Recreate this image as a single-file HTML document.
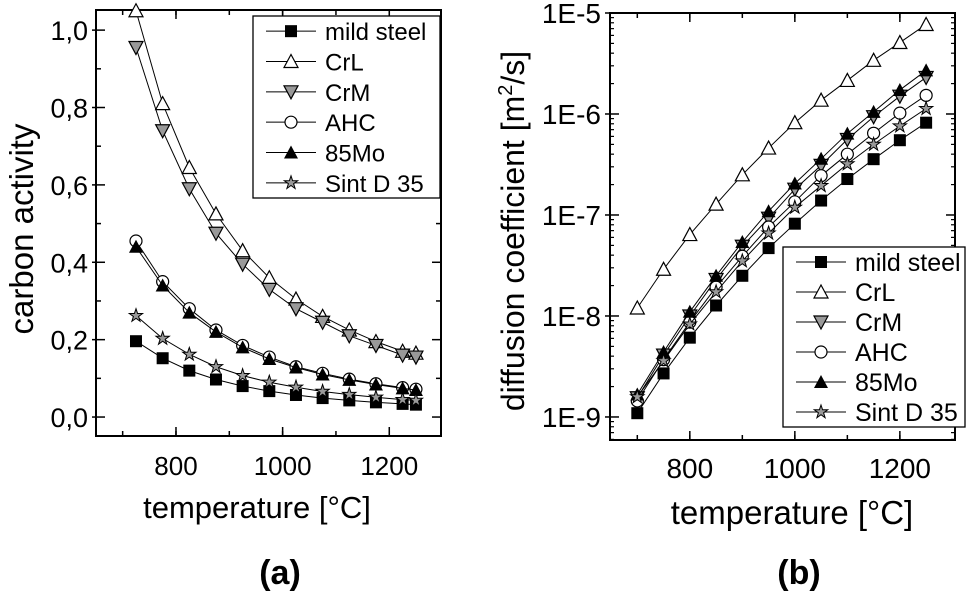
<!DOCTYPE html>
<html><head><meta charset="utf-8"><style>
html,body{margin:0;padding:0;background:#fff}
svg{display:block;font-family:"Liberation Sans",Arial,sans-serif}
</style></head><body>
<svg id="fig" width="967" height="593" viewBox="0 0 967 593" xmlns="http://www.w3.org/2000/svg"></svg>
<script>
// ---- data: panel (a) carbon activity ----
const tempsA = [725,775,825,875,925,975,1025,1075,1125,1175,1225,1250];
const mildA = [0.196,0.152,0.120,0.097,0.080,0.067,0.057,0.049,0.043,0.038,0.034,0.032];
const crlA  = [1.05,0.81,0.645,0.525,0.43,0.36,0.305,0.26,0.225,0.195,0.17,0.165];
const crmA  = [0.955,0.74,0.59,0.475,0.395,0.33,0.28,0.245,0.21,0.185,0.16,0.155];
const ahcA  = [0.455,0.35,0.28,0.225,0.185,0.155,0.13,0.113,0.098,0.086,0.076,0.072];
const moA   = [0.44,0.34,0.27,0.22,0.18,0.15,0.128,0.11,0.096,0.084,0.074,0.07];
const sintA = [0.262,0.203,0.162,0.13,0.107,0.09,0.077,0.066,0.058,0.051,0.045,0.043];
const yTicksA = [0,0.2,0.4,0.6,0.8,1.0];
const yTickLabelsA = ["0,0","0,2","0,4","0,6","0,8","1,0"];
const xTicks = [800,1000,1200];
// ---- data: panel (b) diffusion coefficient ----
const tempsB = [700,750,800,850,900,950,1000,1050,1100,1150,1200,1250];
const mildB = [1.09e-9,2.7e-9,6.1e-9,1.27e-8,2.5e-8,4.7e-8,8.2e-8,1.39e-7,2.27e-7,3.57e-7,5.5e-7,8.2e-7];
const crlB  = [1.2e-8,2.9e-8,6.4e-8,1.28e-7,2.5e-7,4.6e-7,8.2e-7,1.37e-6,2.15e-6,3.4e-6,5.1e-6,7.7e-6];
const crmB  = [1.55e-9,4.1e-9,1.0e-8,2.3e-8,4.9e-8,9.3e-8,1.8e-7,3.1e-7,5.6e-7,9.4e-7,1.5e-6,2.3e-6];
const ahcB  = [1.44e-9,3.7e-9,8.7e-9,1.93e-8,3.9e-8,7.6e-8,1.35e-7,2.45e-7,4.0e-7,6.45e-7,1.02e-6,1.53e-6];
const moB   = [1.67e-9,4.4e-9,1.1e-8,2.5e-8,5.4e-8,1.09e-7,2.05e-7,3.6e-7,6.4e-7,1.05e-6,1.73e-6,2.7e-6];
const sintB = [1.58e-9,3.6e-9,8.3e-9,1.73e-8,3.5e-8,6.6e-8,1.19e-7,1.95e-7,3.2e-7,5.0e-7,7.6e-7,1.13e-6];
const yDecadesB = [-9,-8,-7,-6,-5];
const seriesNames = ["mild steel","CrL","CrM","AHC","85Mo","Sint D 35"];

const NS="http://www.w3.org/2000/svg";
const svg=document.getElementById('fig');
function el(tag,attrs,parent){const e=document.createElementNS(NS,tag);for(const k in attrs)e.setAttribute(k,attrs[k]);(parent||svg).appendChild(e);return e;}

const A={l:96,r:441,t:10,b:436,x0:650,x1:1297,y0:-0.049,y1:1.052};
const xA=v=>A.l+(v-A.x0)/(A.x1-A.x0)*(A.r-A.l);
const yA=v=>A.b-(v-A.y0)/(A.y1-A.y0)*(A.b-A.t);
const B={l:610,r:955,t:13,b:440,x0:648,x1:1305,e0:-9.228,e1:-5};
const xB=v=>B.l+(v-B.x0)/(B.x1-B.x0)*(B.r-B.l);
const yB=v=>B.b-(Math.log10(v)-B.e0)/(B.e1-B.e0)*(B.b-B.t);

function marker(g,type,x,y,s){
  s=s||6;
  let m;
  if(type==='sq') m=el('rect',{x:x-s,y:y-s,width:2*s,height:2*s,fill:'#000'},g);
  else if(type==='tu') m=el('polygon',{points:`${x},${y-s-1} ${x-s-1},${y+s} ${x+s+1},${y+s}`,fill:'#fff',stroke:'#000','stroke-width':1.2},g);
  else if(type==='td') m=el('polygon',{points:`${x},${y+s+1} ${x-s-1},${y-s} ${x+s+1},${y-s}`,fill:'#999',stroke:'#000','stroke-width':1.2},g);
  else if(type==='ci') m=el('circle',{cx:x,cy:y,r:s,fill:'#fff',stroke:'#000','stroke-width':1.2},g);
  else if(type==='tf') m=el('polygon',{points:`${x},${y-s-1} ${x-s-1},${y+s} ${x+s+1},${y+s}`,fill:'#000'},g);
  else {let p=[];for(let i=0;i<10;i++){const r=i%2?s*0.45:s+1;const a=-Math.PI/2+i*Math.PI/5;p.push((x+r*Math.cos(a)).toFixed(1)+','+(y+r*Math.sin(a)).toFixed(1));}
    m=el('polygon',{points:p.join(' '),fill:'#999',stroke:'#000','stroke-width':1},g);}
  
  
}
const types=['sq','tu','td','ci','tf','st'];

function drawSeries(xs,ys,fx,fy,type,name){
  const g=el('g',{});
  
  
  el('polyline',{points:xs.map((t,i)=>fx(t)+','+fy(ys[i])).join(' '),fill:'none',stroke:'#000','stroke-width':1},g);
  xs.forEach((t,i)=>marker(g,type,fx(t),fy(ys[i])));
}
function text(x,y,s,attrs,name){
  const t=el('text',Object.assign({x:x,y:y},attrs||{}));t.textContent=s;
  
  
  return t;
}

// ---- Panel A ----
const fa=el('rect',{x:A.l,y:A.t,width:A.r-A.l,height:A.b-A.t,fill:'none',stroke:'#000','stroke-width':2});


for(let v=700;v<=1250;v+=100){const x=xA(v);el('line',{x1:x,y1:A.b,x2:x,y2:A.b-5,stroke:'#000','stroke-width':1.5});el('line',{x1:x,y1:A.t,x2:x,y2:A.t+5,stroke:'#000','stroke-width':1.5});}
xTicks.forEach(v=>{const x=xA(v);el('line',{x1:x,y1:A.b,x2:x,y2:A.b-9,stroke:'#000','stroke-width':1.5});el('line',{x1:x,y1:A.t,x2:x,y2:A.t+9,stroke:'#000','stroke-width':1.5});
  text(x,475,String(v),{'font-size':26,'text-anchor':'middle'},'x-tick-label-a');});
for(let v=0.1;v<1.05;v+=0.2){const y=yA(v);el('line',{x1:A.l,y1:y,x2:A.l+5,y2:y,stroke:'#000','stroke-width':1.5});el('line',{x1:A.r,y1:y,x2:A.r-5,y2:y,stroke:'#000','stroke-width':1.5});}
yTicksA.forEach((v,i)=>{const y=yA(v);el('line',{x1:A.l-4,y1:y,x2:A.l+9,y2:y,stroke:'#000','stroke-width':1.5});el('line',{x1:A.r,y1:y,x2:A.r-9,y2:y,stroke:'#000','stroke-width':1.5});
  text(88,y+10,yTickLabelsA[i],{'font-size':27,'text-anchor':'end'},'y-tick-label-a');});
text(257,518,'temperature [°C]',{'font-size':31,'text-anchor':'middle'},'x-axis-title-a');
text(0,0,'carbon activity',{'font-size':33,'text-anchor':'middle',transform:'translate(33,229) rotate(-90)'},'y-axis-title-a');
text(280,584,'(a)',{'font-size':34,'font-weight':'bold','text-anchor':'middle'},'panel-label-a');

const seriesA=[mildA,crlA,crmA,ahcA,moA,sintA];
seriesA.forEach((s,i)=>drawSeries(tempsA,s,xA,yA,types[i],seriesNames[i]+'-a'));

// ---- Panel B ----
const fb=el('rect',{x:B.l,y:B.t,width:B.r-B.l,height:B.b-B.t,fill:'none',stroke:'#000','stroke-width':2});


for(let v=700;v<=1250;v+=100){const x=xB(v);el('line',{x1:x,y1:B.b,x2:x,y2:B.b-5,stroke:'#000','stroke-width':1.5});el('line',{x1:x,y1:B.t,x2:x,y2:B.t+5,stroke:'#000','stroke-width':1.5});}
xTicks.forEach(v=>{const x=xB(v);el('line',{x1:x,y1:B.b,x2:x,y2:B.b-9,stroke:'#000','stroke-width':1.5});el('line',{x1:x,y1:B.t,x2:x,y2:B.t+9,stroke:'#000','stroke-width':1.5});
  text(x,478,String(v),{'font-size':28,'text-anchor':'middle'},'x-tick-label-b');});
for(let d=-10;d<-5;d++){for(let k=2;k<=9;k++){const v=k*Math.pow(10,d);const y=yB(v);if(y<B.t||y>B.b)continue;
  el('line',{x1:B.l,y1:y,x2:B.l+4,y2:y,stroke:'#000','stroke-width':1.2});el('line',{x1:B.r,y1:y,x2:B.r-4,y2:y,stroke:'#000','stroke-width':1.2});}}
yDecadesB.forEach(d=>{const y=yB(Math.pow(10,d));el('line',{x1:B.l-5,y1:y,x2:B.l+9,y2:y,stroke:'#000','stroke-width':1.5});el('line',{x1:B.r,y1:y,x2:B.r-9,y2:y,stroke:'#000','stroke-width':1.5});
  text(601,y+10,'1E'+d,{'font-size':28,'text-anchor':'end'},'y-tick-label-b');});
text(792,524,'temperature [°C]',{'font-size':33,'text-anchor':'middle'},'x-axis-title-b');
const yl=text(0,0,'',{'font-size':32,'text-anchor':'middle',transform:'translate(524,231) rotate(-90)'},'y-axis-title-b');
yl.innerHTML='diffusion coefficient [m<tspan dy="-12" font-size="20">2</tspan><tspan dy="12">/s]</tspan>';
text(799,584,'(b)',{'font-size':34,'font-weight':'bold','text-anchor':'middle'},'panel-label-b');

const seriesB=[mildB,crlB,crmB,ahcB,moB,sintB];
seriesB.forEach((s,i)=>drawSeries(tempsB,s,xB,yB,types[i],seriesNames[i]+'-b'));

// ---- legends ----
function legend(x,y,w,h,name,fs){
  const g=el('g',{});
  
  
  el('rect',{x:x,y:y,width:w,height:h,fill:'#fff',stroke:'#000','stroke-width':1.3},g);
  const step=h/6;
  seriesNames.forEach((n,i)=>{
    const cy=y+step*(i+0.5);
    const e=el('g',{},g);
    
    
    el('line',{x1:x+13,y1:cy,x2:x+63,y2:cy,stroke:'#000','stroke-width':1},e);
    marker(e,types[i],x+38,cy,6);
    const t=el('text',{x:x+72,y:cy+9,'font-size':fs},e);t.textContent=n;
    
    
  });
}
legend(253,16,187,182,'legend-a',24);
legend(783,247,182,180,'legend-b',25);
</script>
</body></html>
